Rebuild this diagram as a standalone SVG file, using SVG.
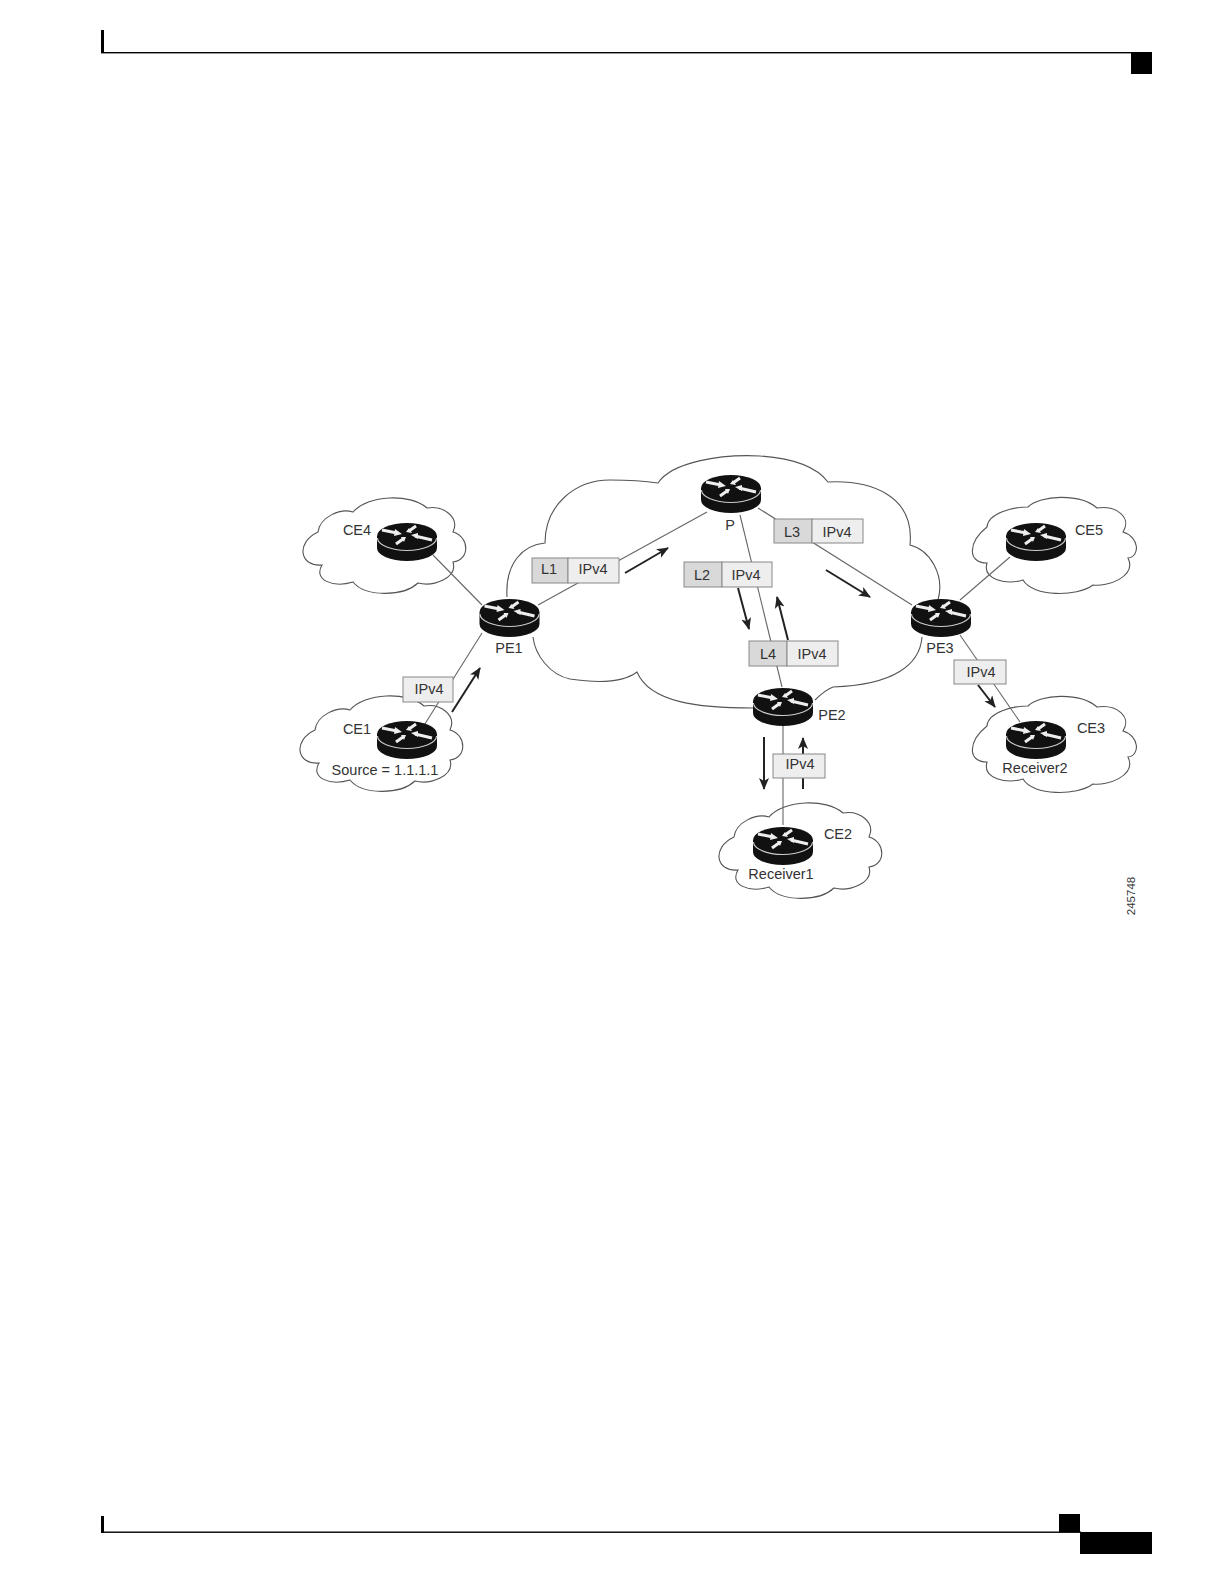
<svg xmlns="http://www.w3.org/2000/svg" xmlns:xlink="http://www.w3.org/1999/xlink" width="1224" height="1584" viewBox="0 0 1224 1584">
<style>
text{font-family:"Liberation Sans",Arial,sans-serif;font-size:14.5px;fill:#333;text-anchor:middle}
.cloud{fill:none;stroke:#555;stroke-width:1.1}
.link{stroke:#666;stroke-width:1.1;fill:none}
.flow{stroke:#222;stroke-width:2;fill:none;marker-end:url(#ah)}
.lab{fill:#d9d9d9;stroke:#888;stroke-width:1}
.pay{fill:#eee;stroke:#888;stroke-width:1}
.page{fill:#000}
.gl{stroke:#eee;stroke-width:3;fill:none}
</style>
<defs>
<marker id="ah" markerUnits="userSpaceOnUse" markerWidth="12" markerHeight="10" refX="11" refY="5" orient="auto"><path d="M0,0L12,5L0,10L3,5z" fill="#222"/></marker>
<g id="router">
<path d="M-30,0v12a30,13 0 0 0 60,0v-12a30,13 0 0 0 -60,0z" fill="#111"/>
<path d="M-29.500,2a29.500,12.500 0 0 0 59,0" fill="none" stroke="#ccc" stroke-width="1.1"/>
<path class="gl" d="M-25,-6L-10,-3M9,-10L2,-5M-11,8L-4,3M8,0L25,4"/>
<path d="M-12,-7L-5,-2L-13,0z M-1,-4L5,-3L2,-8z M-1,1L-6,1L-3,6z M4,-1L11,-3L11,3z" fill="#eee"/>
</g>
<path id="cl-a" d="M318,532C320,517 340,508 353,512C368,495 410,493 427,508C443,505 460,517 453,532C470,537 470,560 453,562C458,578 433,587 418,583C403,597 365,597 353,582C333,588 313,580 322,565C300,567 295,543 318,532z"/>
<path id="cl-b" d="M987,527C988,513 1013,507 1028,507C1040,495 1080,493 1097,508C1117,505 1132,518 1123,532C1140,537 1140,557 1128,558C1137,577 1107,587 1093,585C1077,597 1033,597 1023,580C1007,585 982,580 987,563C967,563 968,542 987,527z"/>
</defs>
<g id="page-furniture">
<rect class="page" x="101" y="30" width="3" height="23"/>
<rect class="page" x="101" y="52" width="1051" height="1.4"/>
<rect class="page" x="1131" y="52" width="21" height="22"/>
<rect class="page" x="101" y="1516" width="3" height="17"/>
<rect class="page" x="101" y="1531.500" width="980" height="1.4"/>
<rect class="page" x="1059" y="1514" width="21" height="18"/>
<rect class="page" x="1080" y="1532" width="72" height="22"/>
</g>
<g id="clouds">
<path id="cloud-core" class="cloud" d="M507,597C505,563 523,545 545,543C545,505 575,480 610,480C630,480 645,481 658,483C672,462 720,454 760,456C790,458 815,465 828,482C870,480 915,495 910,545C930,550 945,575 938,600M922,637C920,665 893,685 833,687C825,690 820,695 815,700M753,708C700,708 650,703 637,672C620,685 590,682 570,679C550,675 535,655 533,637"/>
<use id="cloud-ce4" class="cloud" xlink:href="#cl-a"/>
<use id="cloud-ce1" class="cloud" xlink:href="#cl-a" transform="translate(-3,198)"/>
<use id="cloud-ce2" class="cloud" xlink:href="#cl-a" transform="translate(416,305)"/>
<use id="cloud-ce5" class="cloud" xlink:href="#cl-b"/>
<use id="cloud-ce3" class="cloud" xlink:href="#cl-b" transform="translate(0,199)"/>
</g>
<g id="connectors">
<line class="link" x1="433" y1="555" x2="482" y2="605"/>
<line class="link" x1="482" y1="633" x2="423" y2="727"/>
<line class="link" x1="538" y1="605" x2="707" y2="512"/>
<line class="link" x1="758" y1="508" x2="912" y2="605"/>
<line class="link" x1="740" y1="515" x2="782" y2="687"/>
<line class="link" x1="960" y1="600" x2="1010" y2="557"/>
<line class="link" x1="960" y1="635" x2="1020" y2="722"/>
<line class="link" x1="783" y1="725" x2="783" y2="825"/>
<line class="flow" x1="452" y1="712" x2="480" y2="668"/>
<line class="flow" x1="625" y1="573" x2="668" y2="548"/>
<line class="flow" x1="826" y1="570" x2="870" y2="597"/>
<line class="flow" x1="738" y1="588" x2="749" y2="629"/>
<line class="flow" x1="788" y1="640" x2="777" y2="597"/>
<line class="flow" x1="978" y1="685" x2="995" y2="707"/>
<line class="flow" x1="764" y1="737" x2="764" y2="789"/>
<line class="flow" x1="803" y1="789" x2="803" y2="738"/>
</g>
<g id="ce4"><use xlink:href="#router" x="407" y="536"/><text x="357" y="535">CE4</text></g>
<g id="ce1"><use xlink:href="#router" x="407" y="734"/><text x="357" y="734">CE1</text><text x="385" y="775">Source = 1.1.1.1</text></g>
<g id="pe1"><use xlink:href="#router" x="509.500" y="612"/><text x="509" y="653">PE1</text></g>
<g id="p"><use xlink:href="#router" x="731" y="488"/><text x="730" y="530">P</text></g>
<g id="pe2"><use xlink:href="#router" x="783" y="701"/><text x="832" y="720">PE2</text></g>
<g id="pe3"><use xlink:href="#router" x="941" y="612"/><text x="940" y="653">PE3</text></g>
<g id="ce5"><use xlink:href="#router" x="1036" y="536"/><text x="1089" y="535">CE5</text></g>
<g id="ce3"><use xlink:href="#router" x="1036" y="734"/><text x="1091" y="733">CE3</text><text x="1035" y="773">Receiver2</text></g>
<g id="ce2"><use xlink:href="#router" x="783" y="840"/><text x="838" y="839">CE2</text><text x="781" y="879">Receiver1</text></g>
<g id="pkt-l1"><rect class="lab" x="532" y="558" width="36" height="25"/><rect class="pay" x="568" y="558" width="51" height="25"/><text x="549" y="574">L1</text><text x="593" y="574">IPv4</text></g>
<g id="pkt-l3"><rect class="lab" x="774" y="519" width="38" height="24"/><rect class="pay" x="812" y="519" width="51" height="24"/><text x="792" y="537">L3</text><text x="837" y="537">IPv4</text></g>
<g id="pkt-l2"><rect class="lab" x="684" y="562" width="38" height="25"/><rect class="pay" x="722" y="562" width="50" height="25"/><text x="702" y="580">L2</text><text x="746" y="580">IPv4</text></g>
<g id="pkt-l4"><rect class="lab" x="749" y="641" width="38" height="25"/><rect class="pay" x="787" y="641" width="51" height="25"/><text x="768" y="659">L4</text><text x="812" y="659">IPv4</text></g>
<g id="pkt-ce1"><rect class="pay" x="403" y="677" width="50" height="25"/><text x="429" y="694">IPv4</text></g>
<g id="pkt-pe3"><rect class="pay" x="954" y="660" width="52" height="24"/><text x="981" y="677">IPv4</text></g>
<g id="pkt-pe2"><rect class="pay" x="773" y="754" width="52" height="24"/><text x="800" y="769">IPv4</text></g>
<text id="figure-id" transform="translate(1135,896) rotate(-90)" style="font-size:11.500px">245748</text>
</svg>
